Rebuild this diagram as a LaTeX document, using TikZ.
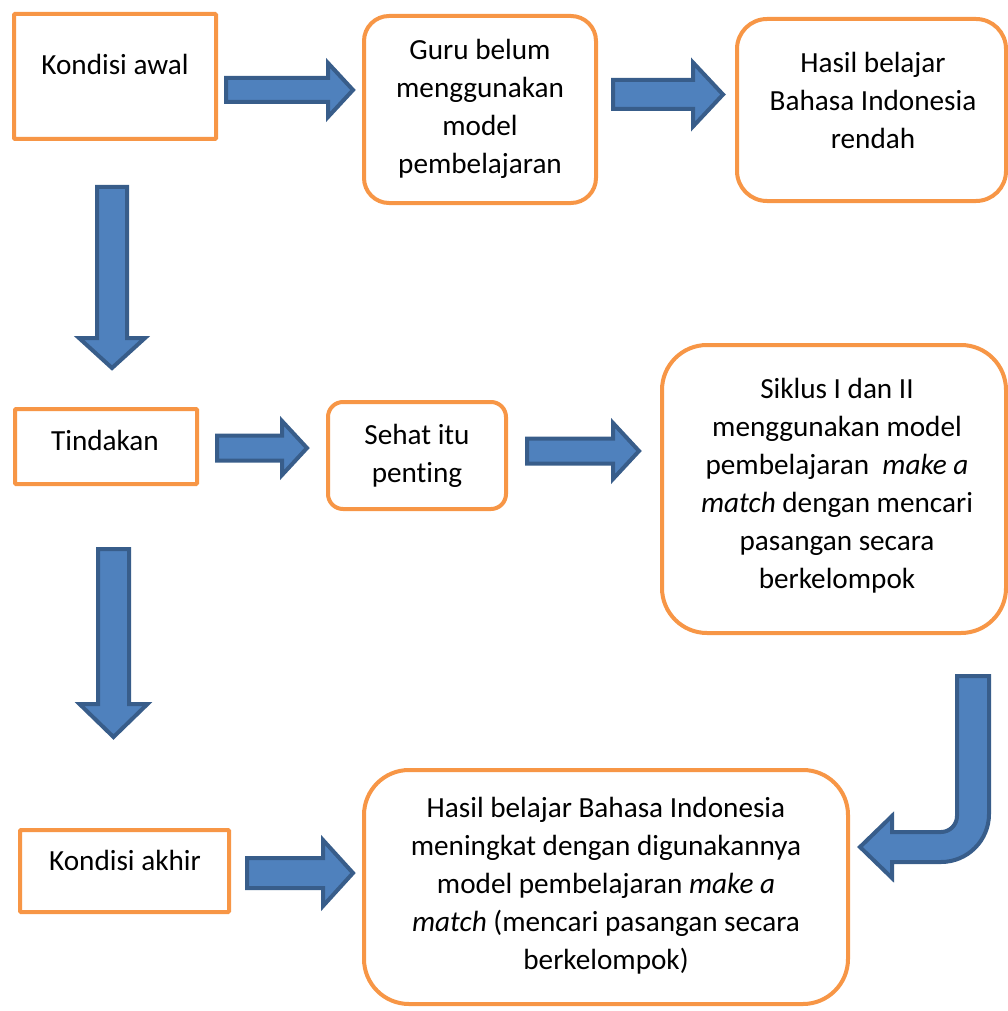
\documentclass[tikz,border=0pt]{standalone}
\usepackage{fontspec}
\setmainfont{Carlito}[Ligatures=NoCommon]
\definecolor{orng}{HTML}{F79646}
\definecolor{bfill}{HTML}{4F81BD}
\definecolor{bline}{HTML}{385D8A}
\tikzset{
  sqbox/.style={draw=orng, line width=4pt, fill=white, inner sep=0pt, rounded corners=1pt},
  rbox/.style={draw=orng, line width=4pt, fill=white, inner sep=0pt},
  txt/.style={align=center, font=\fontsize{29.2}{38}\selectfont, inner sep=0pt},
  blk/.style={fill=bfill, draw=bline, line width=4pt, line join=miter}
}
% horizontal block arrow: xl, xhead, xtip, yc, shaft half, head half
\newcommand\harrowx[6]{%
  \filldraw[blk] (#1,{#4-#5}) -- (#2,{#4-#5}) -- (#2,{#4-#6}) -- (#3,#4)
    -- (#2,{#4+#6}) -- (#2,{#4+#5}) -- (#1,{#4+#5}) -- cycle;}
% vertical block arrow: xc, ytop, yhead, ytip, shaft half, head half
\newcommand\varrowx[6]{%
  \filldraw[blk] ({#1-#5},#2) -- ({#1+#5},#2) -- ({#1+#5},#3) -- ({#1+#6},#3)
    -- (#1,#4) -- ({#1-#6},#3) -- ({#1-#5},#3) -- cycle;}
\begin{document}
\begin{tikzpicture}[x=1pt,y=-1pt]
\useasboundingbox (0,0) rectangle (1008,1011);
% boxes
\node[sqbox, minimum width=202pt, minimum height=125pt] (k1) at (115,76.5) {};
\node[rbox, rounded corners=25pt, minimum width=232pt, minimum height=187pt] (g) at (480,109.5) {};
\node[rbox, rounded corners=30pt, minimum width=269pt, minimum height=182pt] (h) at (871.5,110) {};
\node[sqbox, minimum width=182pt, minimum height=75pt] (t) at (106,446.5) {};
\node[rbox, rounded corners=15pt, minimum width=178pt, minimum height=107pt] (s) at (417,455.5) {};
\node[rbox, rounded corners=45pt, minimum width=344pt, minimum height=288pt] (sk) at (834,489) {};
\node[sqbox, minimum width=209pt, minimum height=82pt] (ka) at (124.5,871) {};
\node[rbox, rounded corners=45pt, minimum width=484pt, minimum height=234pt] (f) at (606,887) {};
% texts
\node[txt] (k1t) at (115,64) {Kondisi awal};
\node[txt] (gt) at (480,109) {Guru belum\\menggunakan\\model\\pembelajaran};
\node[txt] (ht) at (873,100) {Hasil belajar\\Bahasa Indonesia\\rendah};
\node[txt] (tt) at (105,440) {Tindakan};
\node[txt] (st) at (417,456) {Sehat itu\\penting};
\node[txt] (skt) at (837,486) {Siklus I dan II\\menggunakan model\\pembelajaran~ \textit{make a}\\\textit{match} dengan mencari\\pasangan secara\\berkelompok};
\node[txt] (kat) at (125,860) {Kondisi akhir};
\node[txt] (ft) at (606,886) {Hasil belajar Bahasa Indonesia\\meningkat dengan digunakannya\\model pembelajaran \textit{make a}\\\textit{match} (mencari pasangan secara\\berkelompok)};
% block arrows
\harrowx{226}{328}{353}{90}{12}{27}
\harrowx{613}{693}{723}{94.5}{14.5}{32}
\harrowx{217}{282}{307}{448}{12.5}{27}
\harrowx{527}{613}{639}{451}{12.5}{28}
\harrowx{247}{323}{353}{873}{15}{33}
\varrowx{112}{187}{338}{368}{15}{33}
\varrowx{113.5}{549}{704}{737}{15.5}{34}
% bent arrow
\filldraw[blk] (957,676) -- (989,676) -- (989,814)
  .. controls (989,840.5) and (967.5,862) .. (941,862)
  -- (892,862) -- (892,878) -- (860,847) -- (892,816) -- (892,832) -- (941,832)
  .. controls (949.8,832) and (957,824.8) .. (957,816) -- cycle;
\end{tikzpicture}
\end{document}
